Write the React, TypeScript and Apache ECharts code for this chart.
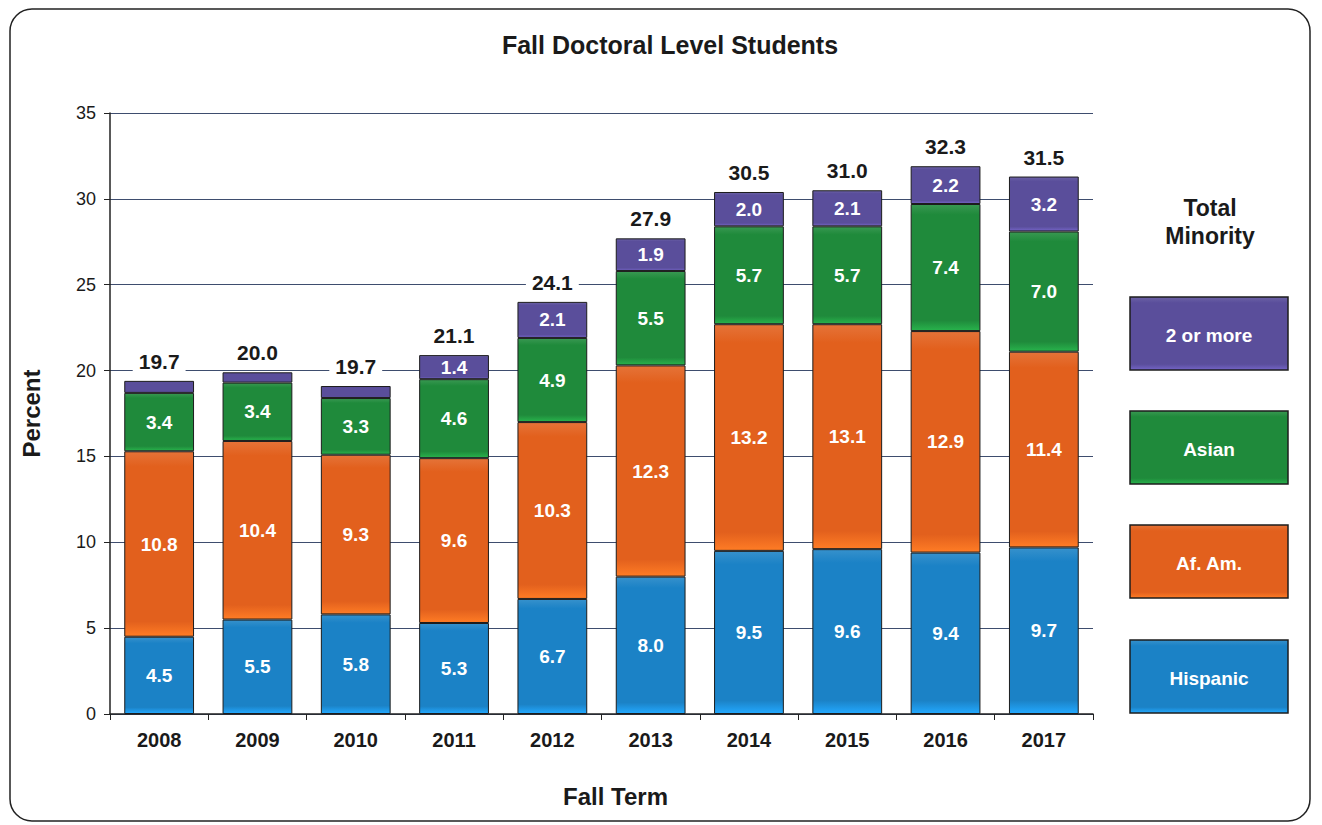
import React, { useEffect, useRef } from "react";
import * as echarts from "echarts";

const years = ["2008", "2009", "2010", "2011", "2012", "2013", "2014", "2015", "2016", "2017"];
const hispanic = [4.5, 5.5, 5.8, 5.3, 6.7, 8.0, 9.5, 9.6, 9.4, 9.7];
const afAm = [10.8, 10.4, 9.3, 9.6, 10.3, 12.3, 13.2, 13.1, 12.9, 11.4];
const asian = [3.4, 3.4, 3.3, 4.6, 4.9, 5.5, 5.7, 5.7, 7.4, 7.0];
const twoOrMore = [0.7, 0.6, 0.7, 1.4, 2.1, 1.9, 2.0, 2.1, 2.2, 3.2];
const totals = [19.7, 20.0, 19.7, 21.1, 24.1, 27.9, 30.5, 31.0, 32.3, 31.5];
const yTicks = [0, 5, 10, 15, 20, 25, 30, 35];

const seriesNames = ["Hispanic", "Af. Am.", "Asian", "2 or more"];
const colors = ["#1b82c6", "#e2601d", "#1f8a3b", "#5a4e9b"];
const FONT = "'Liberation Sans', Arial, sans-serif";

function bevel(c: string) {
  return {
    type: "linear",
    x: 0,
    y: 0,
    x2: 0,
    y2: 1,
    colorStops: [
      { offset: 0, color: echarts.color.lift(c, 0.12) },
      { offset: 0.08, color: c },
      { offset: 0.92, color: c },
      { offset: 1, color: echarts.color.lift(c, -0.3) },
    ],
  };
}

export default function App() {
  const ref = useRef<HTMLDivElement>(null);
  useEffect(() => {
    document.body.style.margin = "0";
    const chart = echarts.init(ref.current!, null, { renderer: "svg" });
    const dataSets = [hispanic, afAm, asian, twoOrMore];
    const barSeries: any[] = dataSets.map((d, i) => ({
      name: seriesNames[i],
      type: "bar",
      stack: "total",
      barWidth: "71%",
      data: d,
      itemStyle: { color: bevel(colors[i]), borderColor: "#1c1c1c", borderWidth: 1 },
      label: {
        show: true,
        position: "inside",
        color: "#ffffff",
        fontWeight: "bold",
        fontSize: 19,
        fontFamily: FONT,
        formatter: (p: any) => (p.value >= 1.35 ? Number(p.value).toFixed(1) : ""),
      },
    }));
    barSeries.push({
      name: "Total",
      type: "bar",
      stack: "total",
      barWidth: "71%",
      data: totals.map(() => 0),
      itemStyle: { color: "transparent" },
      label: {
        show: true,
        position: "top",
        distance: 7,
        color: "#1a1a1a",
        fontWeight: "bold",
        fontSize: 21,
        fontFamily: FONT,
        backgroundColor: "#ffffff",
        padding: [2, 6],
        formatter: (p: any) => totals[p.dataIndex].toFixed(1),
      },
      z: 5,
    });

    const legendTop = [297, 411, 525, 640];
    const legendOrder = [3, 2, 1, 0];
    const legendGraphics: any[] = legendOrder.map((si, k) => ({
      type: "group",
      x: 1130,
      y: legendTop[k],
      children: [
        {
          type: "rect",
          shape: { x: 0, y: 0, width: 158, height: 73 },
          style: { fill: bevel(colors[si]), stroke: "#1c1c1c", lineWidth: 1.5 },
        },
        {
          type: "text",
          x: 79,
          y: 38,
          style: {
            text: seriesNames[si],
            fill: "#ffffff",
            font: `bold 19px ${FONT}`,
            textAlign: "center",
            textVerticalAlign: "middle",
          },
        },
      ],
    }));

    chart.setOption({
      animation: false,
      textStyle: { fontFamily: FONT },
      title: {
        text: "Fall Doctoral Level Students",
        left: 665,
        top: 27,
        textAlign: "center",
        textStyle: { fontSize: 25, fontWeight: "bold", color: "#1a1a1a", fontFamily: FONT },
      },
      grid: { left: 110, right: 229, top: 113, bottom: 111 },
      xAxis: {
        type: "category",
        data: years,
        name: "Fall Term",
        nameLocation: "middle",
        nameGap: 70,
        nameTextStyle: { fontSize: 24, fontWeight: "bold", color: "#1a1a1a", fontFamily: FONT, padding: [0, 0, 0, 28] },
        axisLine: { lineStyle: { color: "#222", width: 1.5 } },
        axisTick: { show: true, alignWithLabel: false, length: 6, lineStyle: { color: "#222" } },
        axisLabel: { fontSize: 20, fontWeight: "bold", color: "#1a1a1a", margin: 16, fontFamily: FONT },
      },
      yAxis: {
        type: "value",
        min: yTicks[0],
        max: yTicks[yTicks.length - 1],
        interval: 5,
        name: "Percent",
        nameLocation: "middle",
        nameGap: 67,
        nameRotate: 90,
        nameTextStyle: { fontSize: 24, fontWeight: "bold", color: "#1a1a1a", fontFamily: FONT },
        axisLine: { show: true, lineStyle: { color: "#222", width: 1.5 } },
        axisTick: { show: true, length: 6, lineStyle: { color: "#222" } },
        axisLabel: { fontSize: 18, color: "#1a1a1a", margin: 14, fontFamily: FONT },
        splitLine: { show: true, lineStyle: { color: "#3e4d6e", width: 1 } },
      },
      series: barSeries,
      graphic: [
        {
          type: "rect",
          shape: { x: 10, y: 9, width: 1300, height: 812, r: 22 },
          style: { fill: "none", stroke: "#222", lineWidth: 1.5 },
          z: -10,
        },
        {
          type: "text",
          x: 1210,
          y: 222,
          style: {
            text: "Total\nMinority",
            fill: "#1a1a1a",
            font: `bold 23px ${FONT}`,
            textAlign: "center",
            textVerticalAlign: "middle",
            lineHeight: 28,
          },
        },
        ...legendGraphics,
      ],
    });
    return () => chart.dispose();
  }, []);
  return <div ref={ref} style={{ width: 1322, height: 825 }} />;
}
